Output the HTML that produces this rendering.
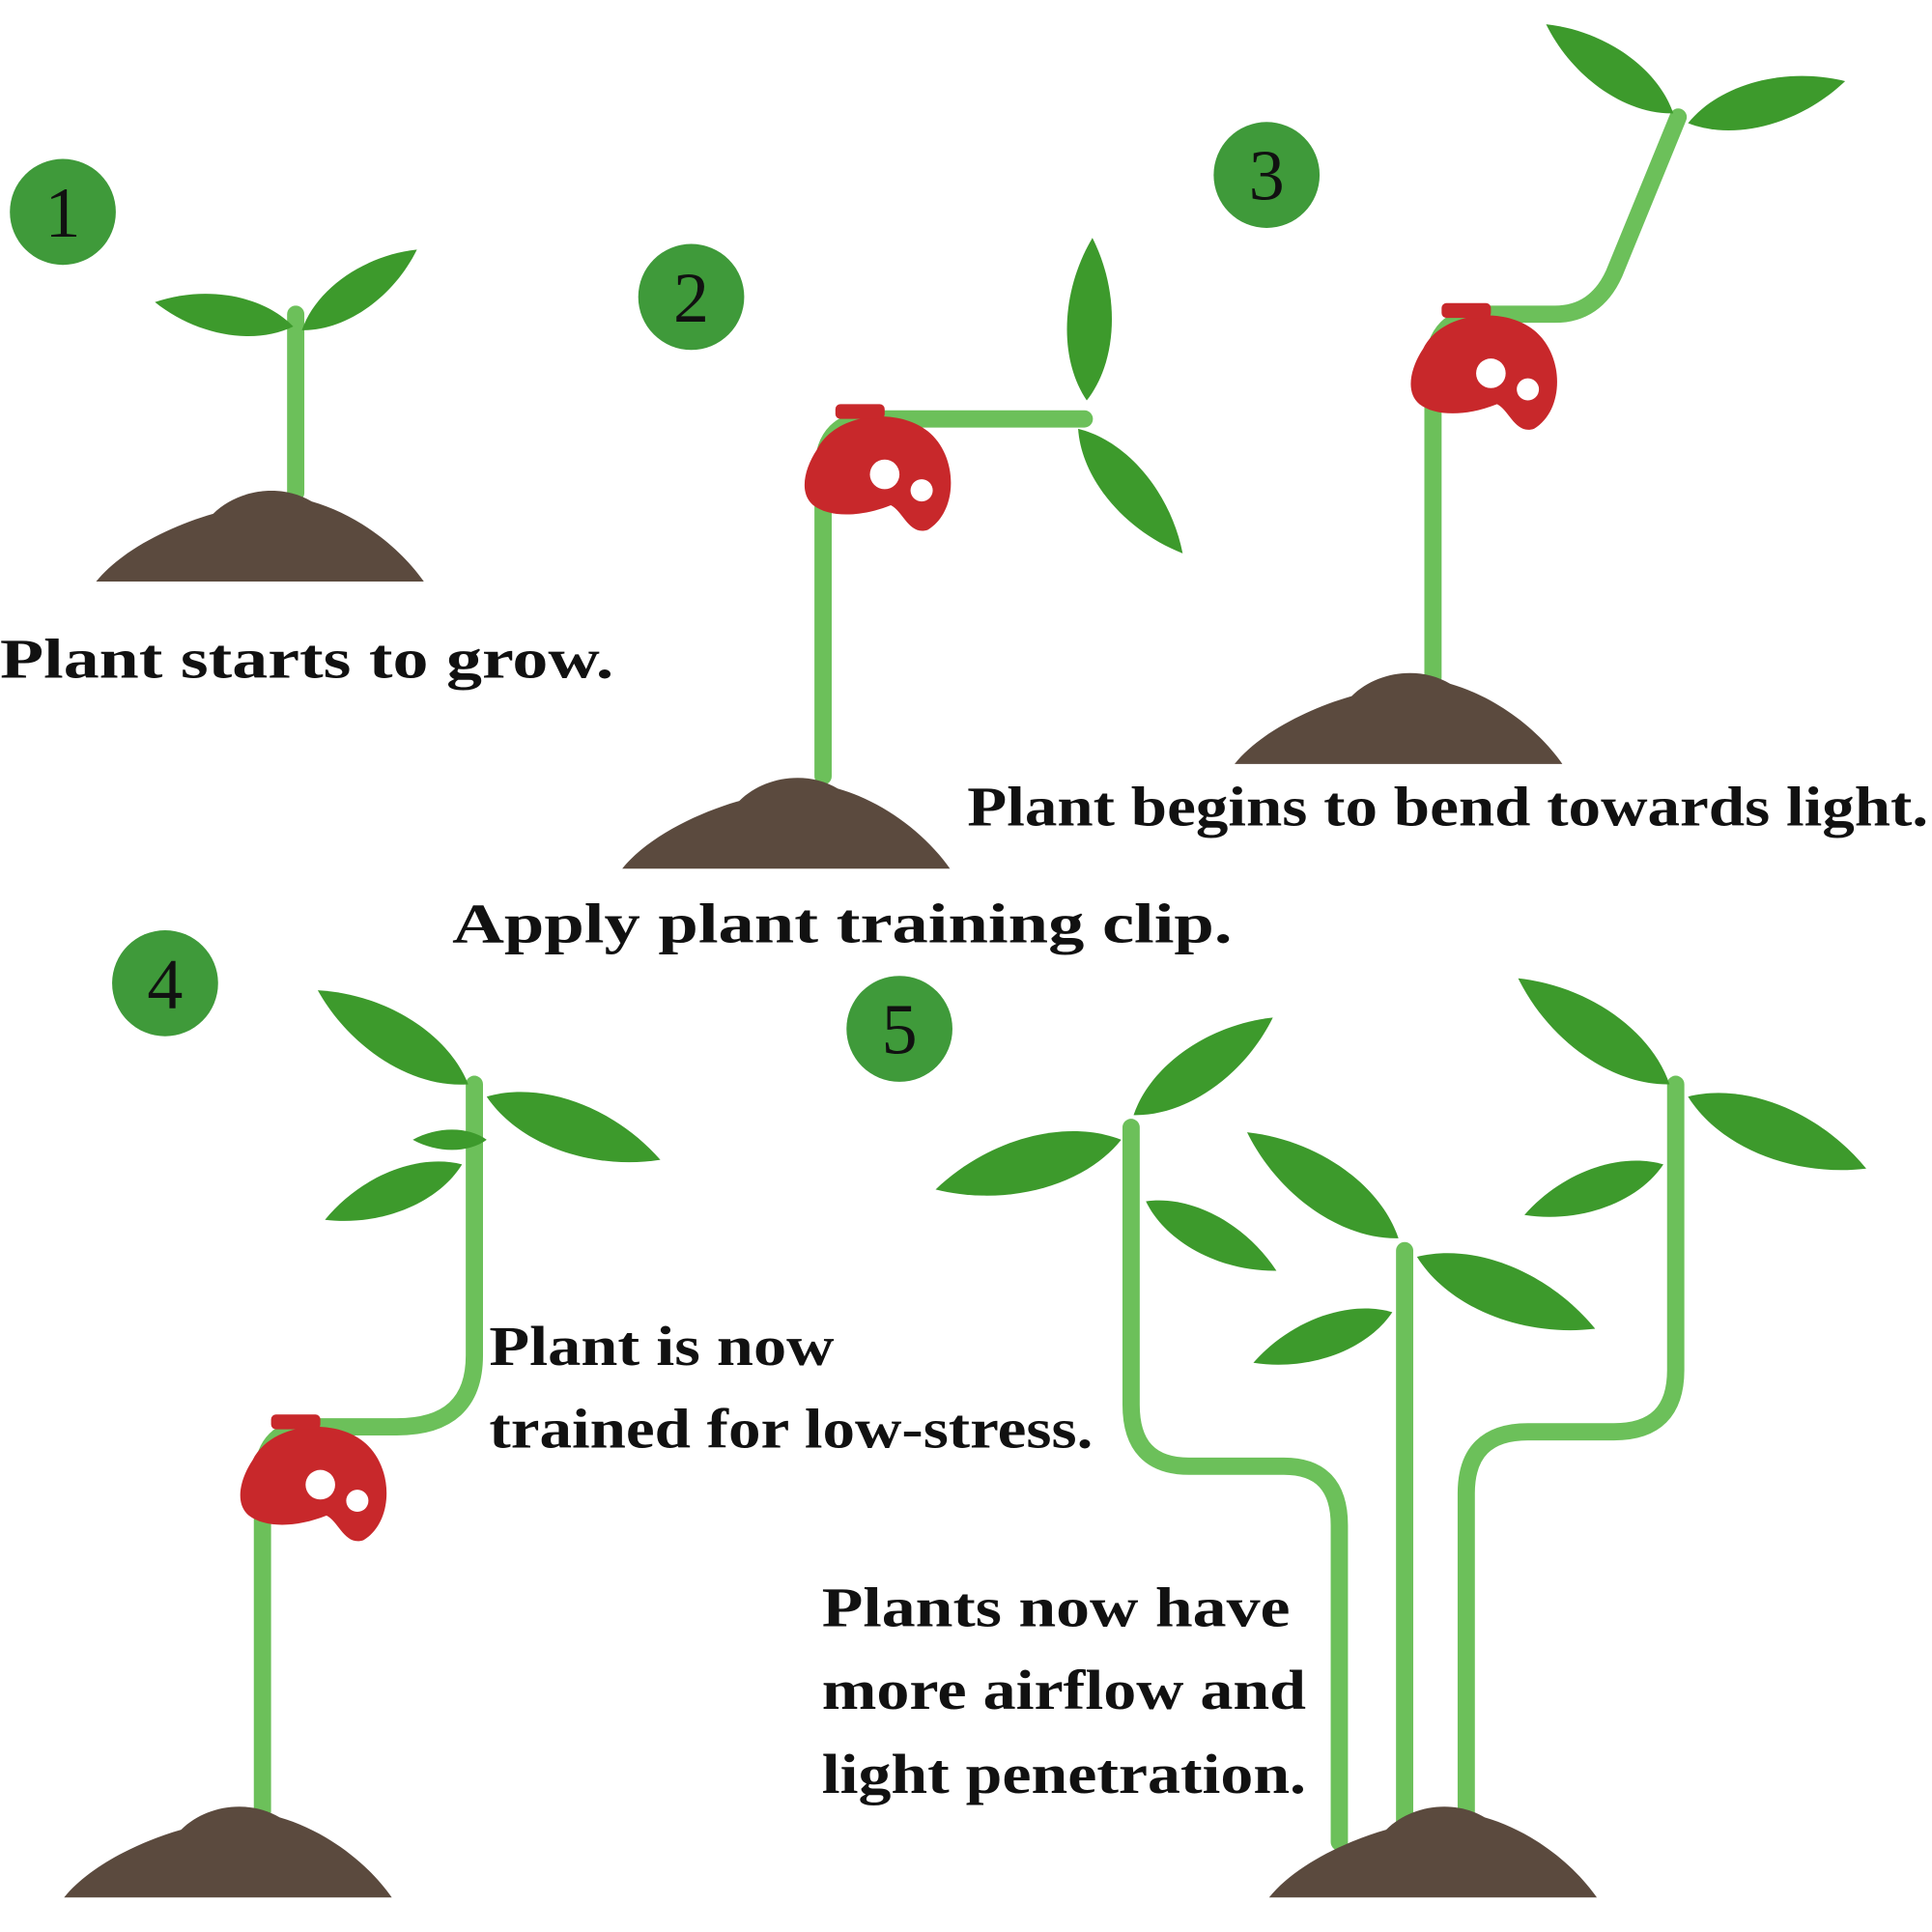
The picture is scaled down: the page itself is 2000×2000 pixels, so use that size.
<!DOCTYPE html>
<html><head><meta charset="utf-8"><style>
html,body{margin:0;padding:0;background:#fff;}
svg{display:block}
text{font-family:"Liberation Serif",serif;font-weight:bold;fill:#111}
.num{font-weight:normal;font-size:58px;text-anchor:middle}
</style></head><body>
<svg width="2000" height="2000" viewBox="0 0 1568 1568" xmlns="http://www.w3.org/2000/svg">
<defs>
<path id="leaf" d="M0,0 C30,-22 80,-22 120,0 C80,22 30,22 0,0 Z" fill="#3d9a2c"/>
<path id="leafv" d="M0,0 C30,-22 80,-22 120,0 M0,0 C30,22 80,22 120,0" fill="none" stroke="#2f7d22" stroke-width="2"/>
<g id="clip">
<path d="M-55,-25 C-40,-55 10,-60 35,-40 C60,-20 60,25 35,40 C20,45 15,25 5,20 C-20,30 -45,30 -58,20 C-70,10 -65,-10 -55,-25 Z" fill="#c8282b"/>
<circle cx="0" cy="-5" r="12" fill="#fff"/>
<circle cx="30" cy="8" r="9" fill="#fff"/>
<rect x="-40" y="-62" width="40" height="12" rx="4" fill="#c8282b"/>
</g>
<path id="mound" d="M0,0 C20,-25 60,-45 95,-55 C115,-75 150,-80 175,-65 C210,-55 245,-30 266,0 Z" fill="#5b4a3e"/>
</defs>

<!-- circles -->
<g fill="#3f9a3a">
<circle cx="51" cy="172" r="43"/><circle cx="561" cy="241" r="43"/><circle cx="1028" cy="142" r="43"/>
<circle cx="134" cy="798" r="43"/><circle cx="730" cy="835" r="43"/>
</g>
<text class="num" x="51" y="192">1</text><text class="num" x="561" y="261">2</text><text class="num" x="1028" y="162">3</text>
<text class="num" x="134" y="818">4</text><text class="num" x="730" y="855">5</text>

<!-- stems -->
<g fill="none" stroke="#6cc05a" stroke-width="14" stroke-linecap="round">
<path d="M240,400 V255"/>
<path d="M668,630 V382 Q668,340 710,340 H880"/>
<path d="M1163,550 V300 Q1163,255 1208,255 H1262 Q1295,255 1310,222 L1362,95"/>
<path d="M213,1470 V1200 Q213,1158 255,1158 H322 Q385,1158 385,1100 V880"/>
<path d="M1087,1495 V1238 Q1087,1190 1042,1190 H965 Q918,1190 918,1140 V915"/>
<path d="M1140,1480 V1015"/>
<path d="M1190,1480 V1212 Q1190,1162 1240,1162 H1310 Q1360,1162 1360,1112 V880"/>
</g>

<!-- mounds -->
<use href="#mound" x="78" y="472"/>
<use href="#mound" x="505" y="705"/>
<use href="#mound" x="1002" y="620"/>
<use href="#mound" x="52" y="1540"/>
<use href="#mound" x="1030" y="1540"/>

<!-- leaves -->
<g>
<!-- plant 1 -->
<use href="#leaf" transform="translate(238,265) rotate(190) scale(0.95)"/>
<use href="#leaf" transform="translate(245,268) rotate(-35) scale(0.95)"/>
<!-- plant 2 -->
<use href="#leaf" transform="translate(882,325) rotate(-88) scale(1.1)"/>
<use href="#leaf" transform="translate(875,348) rotate(50) scale(1.1)"/>
<!-- plant 3 -->
<use href="#leaf" transform="translate(1358,92) rotate(-145) scale(1.05)"/>
<use href="#leaf" transform="translate(1370,100) rotate(-15) scale(1.1)"/>
<!-- plant 4 -->
<use href="#leaf" transform="translate(380,880) rotate(-148) scale(1.2)"/>
<use href="#leaf" transform="translate(395,890) rotate(20) scale(1.25)"/>
<use href="#leaf" transform="translate(375,945) rotate(158) scale(1.0)"/>
<use href="#leaf" transform="translate(395,925) rotate(180) scale(0.5)"/>
<!-- plant 5 left -->
<use href="#leaf" transform="translate(920,905) rotate(-35) scale(1.15)"/>
<use href="#leaf" transform="translate(910,925) rotate(165) scale(1.3)"/>
<use href="#leaf" transform="translate(930,975) rotate(28) scale(1.0)"/>
<!-- plant 5 middle -->
<use href="#leaf" transform="translate(1135,1005) rotate(-145) scale(1.25)"/>
<use href="#leaf" transform="translate(1150,1020) rotate(22) scale(1.3)"/>
<use href="#leaf" transform="translate(1130,1065) rotate(160) scale(1.0)"/>
<!-- plant 5 right -->
<use href="#leaf" transform="translate(1355,880) rotate(-145) scale(1.25)"/>
<use href="#leaf" transform="translate(1370,890) rotate(22) scale(1.3)"/>
<use href="#leaf" transform="translate(1350,945) rotate(160) scale(1.0)"/>
</g>

<!-- clips -->
<use href="#clip" transform="translate(718,390) scale(1.0)"/>
<use href="#clip" transform="translate(1210,308) scale(1.0)"/>
<use href="#clip" transform="translate(260,1210) scale(1.0)"/>

<!-- text -->
<g font-size="46">
<text x="0" y="550" textLength="498" lengthAdjust="spacingAndGlyphs">Plant starts to grow.</text>
<text x="785" y="670" textLength="780" lengthAdjust="spacingAndGlyphs">Plant begins to bend towards light.</text>
<text x="367" y="765" textLength="633" lengthAdjust="spacingAndGlyphs">Apply plant training clip.</text>
<text x="397" y="1108" textLength="280" lengthAdjust="spacingAndGlyphs">Plant is now</text>
<text x="397" y="1175" textLength="490" lengthAdjust="spacingAndGlyphs">trained for low-stress.</text>
<text x="667" y="1320" textLength="380" lengthAdjust="spacingAndGlyphs">Plants now have</text>
<text x="667" y="1387" textLength="393" lengthAdjust="spacingAndGlyphs">more airflow and</text>
<text x="667" y="1455" textLength="393" lengthAdjust="spacingAndGlyphs">light penetration.</text>
</g>
</svg>
</body></html>
